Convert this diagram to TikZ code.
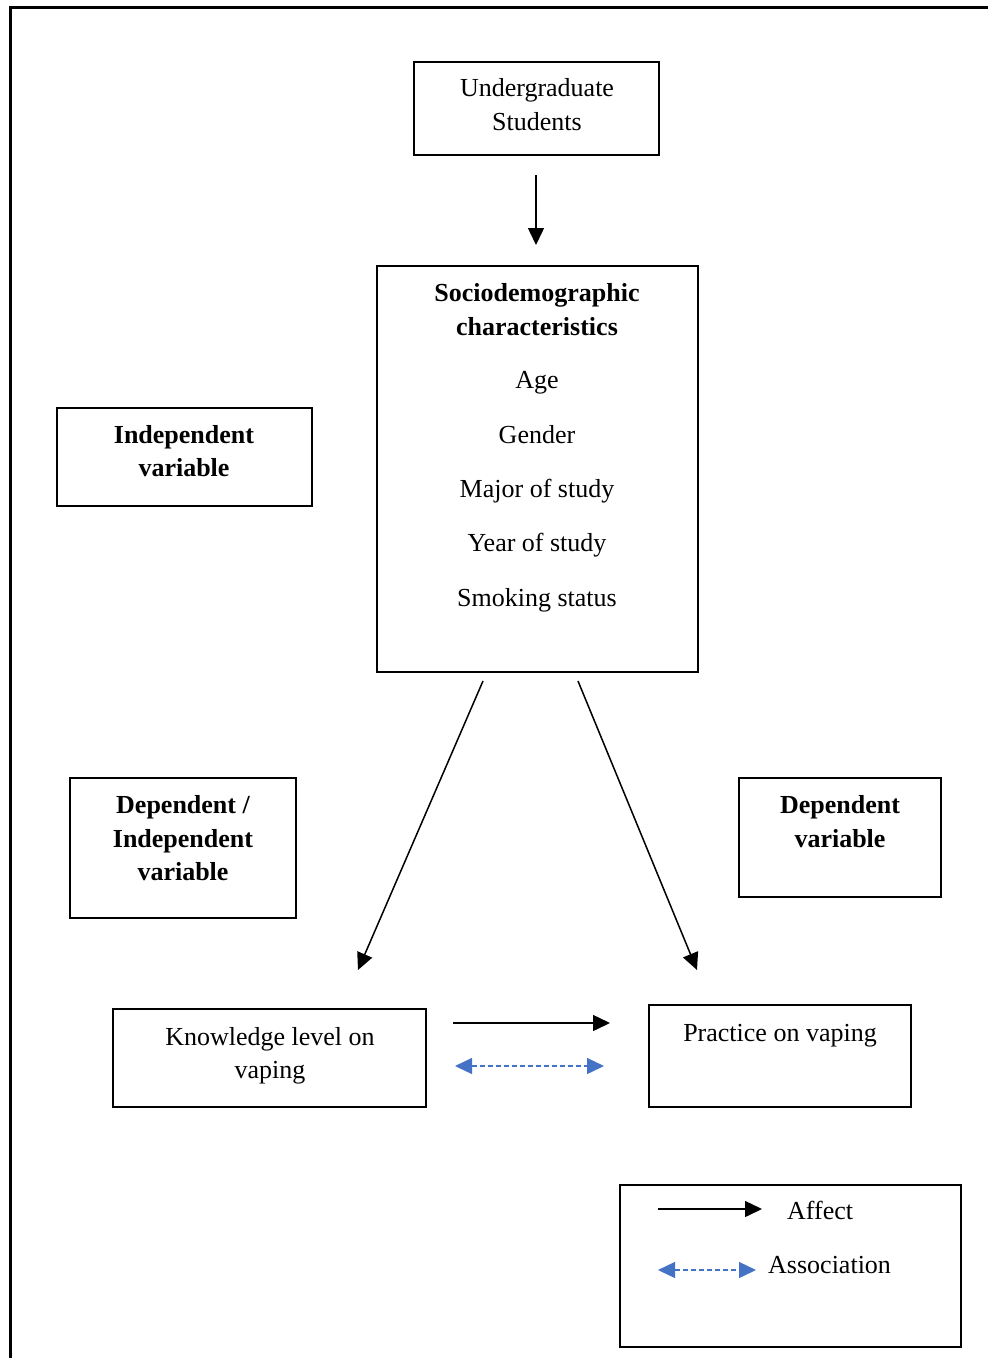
\documentclass[tikz,border=0pt]{standalone}
\usepackage{fontspec}
\setmainfont{Liberation Serif}
\usetikzlibrary{arrows.meta}
\definecolor{assocblue}{HTML}{4472C4}
\begin{document}
\begin{tikzpicture}[x=1pt,y=-1pt,
  box/.style={draw,line width=1.3pt,inner sep=0pt},
  txt/.style={anchor=base,inner sep=0pt,font=\fontsize{26}{34}\selectfont},
  btxt/.style={anchor=base,inner sep=0pt,font=\fontsize{26}{34}\selectfont\bfseries},
  affect/.style={line width=1.5pt,-{Triangle[length=17pt,width=16pt]}},
  assoc/.style={assocblue,line width=1.3pt,dash pattern=on 5pt off 3pt,
    {Triangle[length=17pt,width=16pt]}-{Triangle[length=17pt,width=16pt]}}]
\useasboundingbox (0,0) rectangle (988,1358);
% frame
\coordinate (fr1) at (988,7);
\coordinate (fr2) at (10,7);
\coordinate (fr3) at (10,1358);
\draw[line width=3pt] (fr1) -- (fr2) -- (fr3);
% boxes
\node[box,minimum width=245pt,minimum height=93pt] (ug) at (536.5,108.5) {};
\node[box,minimum width=321pt,minimum height=406pt] (socio) at (537.5,469) {};
\node[box,minimum width=255pt,minimum height=98pt] (indep) at (184.5,457) {};
\node[box,minimum width=226pt,minimum height=140pt] (depind) at (183,848) {};
\node[box,minimum width=202pt,minimum height=119pt] (dep) at (840,837.5) {};
\node[box,minimum width=313pt,minimum height=98pt] (know) at (269.5,1058) {};
\node[box,minimum width=262pt,minimum height=102pt] (prac) at (780,1056) {};
\node[box,minimum width=341pt,minimum height=162pt] (legend) at (790.5,1266) {};
% texts
\node[txt] (ug1) at (537,96) {Undergraduate};
\node[txt] (ug2) at (537,130) {Students};
\node[btxt] (so1) at (537,301) {Sociodemographic};
\node[btxt] (so2) at (537,335) {characteristics};
\node[txt] (so3) at (537,388) {Age};
\node[txt] (so4) at (537,443) {Gender};
\node[txt] (so5) at (537,497) {Major of study};
\node[txt] (so6) at (537,551) {Year of study};
\node[txt] (so7) at (537,606) {Smoking status};
\node[btxt] (in1) at (184,443) {Independent};
\node[btxt] (in2) at (184,476) {variable};
\node[btxt] (di1) at (183,813) {Dependent /};
\node[btxt] (di2) at (183,847) {Independent};
\node[btxt] (di3) at (183,880) {variable};
\node[btxt] (de1) at (840,813) {Dependent};
\node[btxt] (de2) at (840,847) {variable};
\node[txt] (kn1) at (270,1045) {Knowledge level on};
\node[txt] (kn2) at (270,1078) {vaping};
\node[txt] (pr1) at (780,1041) {Practice on vaping};
\node[txt,anchor=base west] (lg1) at (787,1219) {Affect};
\node[txt,anchor=base west] (lg2) at (768,1273) {Association};
% arrow end points
\coordinate (a1s) at (536,175);
\coordinate (a1e) at (536,245);
\coordinate (a2s) at (483,681);
\coordinate (a2e) at (358,970);
\coordinate (a3s) at (578,681);
\coordinate (a3e) at (697,970);
\coordinate (a4s) at (453,1023);
\coordinate (a4e) at (610,1023);
\coordinate (a5s) at (455,1066);
\coordinate (a5e) at (604,1066);
\coordinate (l1s) at (658,1209);
\coordinate (l1e) at (762,1209);
\coordinate (l2s) at (658,1270);
\coordinate (l2e) at (756,1270);
% arrows
\draw[affect] (a1s) -- (a1e);
\draw[affect] (a2s) -- (a2e);
\draw[affect] (a3s) -- (a3e);
\draw[affect] (a4s) -- (a4e);
\draw[assoc] (a5s) -- (a5e);
\draw[affect] (l1s) -- (l1e);
\draw[assoc] (l2s) -- (l2e);
\end{tikzpicture}
\end{document}
